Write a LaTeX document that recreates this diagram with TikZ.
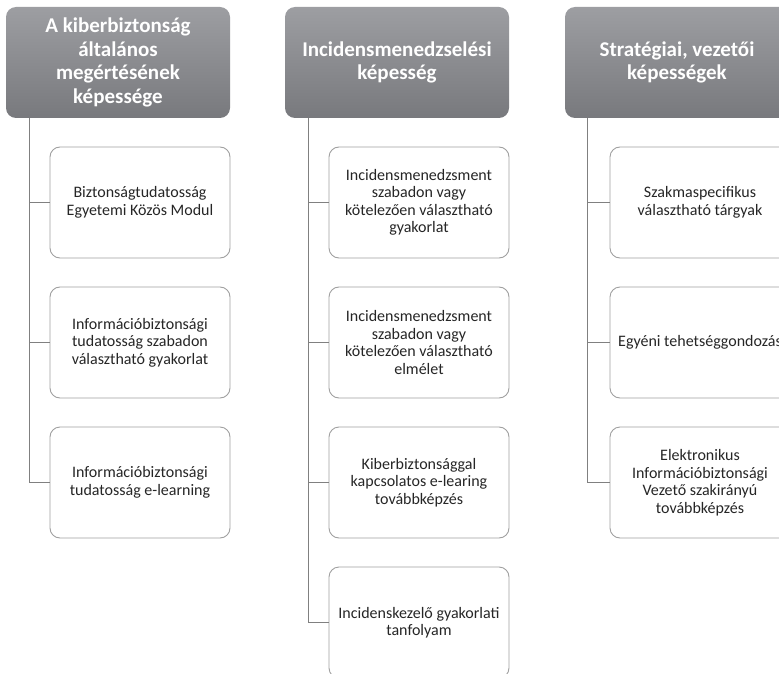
\documentclass[tikz,border=0pt]{standalone}
\usepackage{fontspec}
\setmainfont{Carlito}
\begin{document}
\begin{tikzpicture}[x=1pt,y=-1pt,
  hdr/.style={rounded corners=10pt, top color=hdrtop, bottom color=hdrbot, draw=none,
    minimum width=224pt, minimum height=111pt, inner sep=0pt, align=center,
    text=white, font=\fontsize{21}{23.5}\selectfont\bfseries},
  item/.style={rounded corners=10pt, draw=boxline, line width=0.9pt, fill=white,
    minimum width=180pt, minimum height=111pt, inner sep=0pt, align=center,
    text=textcol, font=\fontsize{16}{17.5}\selectfont},
  conn/.style={draw=linecol, line width=1pt}]
\definecolor{hdrtop}{HTML}{9D9EA2}
\definecolor{hdrbot}{HTML}{78797D}
\definecolor{boxline}{HTML}{A0A0A0}
\definecolor{linecol}{HTML}{808080}
\definecolor{textcol}{HTML}{262626}
\useasboundingbox (0,0) rectangle (779,674);
\clip (0,0) rectangle (779,674);
% headers
\node[hdr] (h1) at (118,62.5) {A kiberbiztonság\\általános\\megértésének\\képessége};
\node[hdr] (h2) at (397,62.5) {Incidensmenedzselési\\képesség};
\node[hdr] (h3) at (677,62.5) {Stratégiai, vezetői\\képességek};
% column 1
\node[item] (c11) at (140,202.5) {Biztonságtudatosság\\Egyetemi Közös Modul};
\node[item] (c12) at (140,342.5) {Információbiztonsági\\tudatosság szabadon\\választható gyakorlat};
\node[item] (c13) at (140,482.5) {Információbiztonsági\\tudatosság e-learning};
% column 2
\node[item] (c21) at (419,202.5) {Incidensmenedzsment\\szabadon vagy\\kötelezően választható\\gyakorlat};
\node[item] (c22) at (419,342.5) {Incidensmenedzsment\\szabadon vagy\\kötelezően választható\\elmélet};
\node[item] (c23) at (419,482.5) {Kiberbiztonsággal\\kapcsolatos e-learing\\továbbképzés};
\node[item] (c24) at (419,622.5) {Incidenskezelő gyakorlati\\tanfolyam};
% column 3
\node[item] (c31) at (700,202.5) {Szakmaspecifikus\\választható tárgyak};
\node[item] (c32) at (700,342.5) {Egyéni tehetséggondozás};
\node[item] (c33) at (700,482.5) {Elektronikus\\Információbiztonsági\\Vezető szakirányú\\továbbképzés};
% connectors
\coordinate (t1) at (29,118);
\coordinate (t2) at (308,118);
\coordinate (t3) at (587,118);
\draw[conn] (t1) |- (c13.west);
\draw[conn] (t1 |- c11.west) -- (c11.west);
\draw[conn] (t1 |- c12.west) -- (c12.west);
\draw[conn] (t2) |- (c24.west);
\draw[conn] (t2 |- c21.west) -- (c21.west);
\draw[conn] (t2 |- c22.west) -- (c22.west);
\draw[conn] (t2 |- c23.west) -- (c23.west);
\draw[conn] (t3) |- (c33.west);
\draw[conn] (t3 |- c31.west) -- (c31.west);
\draw[conn] (t3 |- c32.west) -- (c32.west);
\end{tikzpicture}
\end{document}
